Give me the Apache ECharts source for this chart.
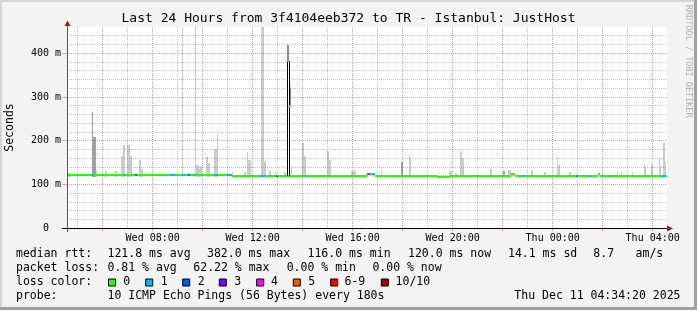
<!DOCTYPE html>
<html><head><meta charset="utf-8">
<script src="https://cdn.jsdelivr.net/npm/echarts@6/dist/echarts.min.js"></script>
<style>html,body{margin:0;padding:0;background:#f3f3f3}#c{width:697px;height:310px}</style>
</head><body><div id="c"></div>
<script>
// ---------- data (hours since Wed 00:00) ----------
const startHour = 4 + 34.33 / 60;      // Wed 04:34
const endHour = startHour + 24;        // Thu 04:34
const stepHours = 0.05;                // 180 s per step
const yMax = 460;

const xLabelHours = [8, 12, 16, 20, 24, 28];
const xMajorHours = [6, 8, 10, 12, 14, 16, 18, 20, 22, 24, 26, 28];
const xMinorHours = [5, 7, 9, 11, 13, 15, 17, 19, 21, 23, 25, 27];
const yLabelValues = [0, 100, 200, 300, 400];
const yMajorValues = [100, 200, 300, 400];
const yMinorValues = [20, 40, 60, 80, 120, 140, 160, 180, 220, 240, 260, 280, 320, 340, 360, 380, 420, 440];

// median rtt (ms), held from each time until the next
const medianTimes  = [4.572, 11.172, 16.572, 16.892, 19.372, 19.892, 22.332, 22.492, 25.812, 25.892];
const medianValues = [122,   120,    124,    120,    116,    120,    123,    120,    123,    120];

// packet-loss coloured stretches of the median line
const lossStart = [5.544, 6.812, 7.304, 8.704, 9.172, 9.372, 9.432, 9.640, 10.440, 10.960, 12.292, 12.932, 14.092, 16.572, 16.772, 20.960, 22.760, 24.932, 25.492, 26.160, 28.360];
const lossEnd   = [5.664, 6.904, 7.372, 8.904, 9.304, 9.432, 9.504, 9.732, 10.612, 11.160, 12.492, 13.000, 14.184, 16.692, 16.892, 21.024, 22.864, 24.972, 25.560, 26.292, 28.492];
const lossLevel = [1,     1,     2,     1,     1,     1,     2,     1,     1,      1,      1,      2,      1,      4,      1,      1,      1,      2,      1,      1,      1];

// smoke (ping spread) columns: step start time and highest ping (ms)
const smokeFloor = 117;
const smokeLightTimes = [4.572, 4.622, 4.672, 5.722, 6.112, 6.492, 6.542, 6.752, 6.802, 6.852, 6.992, 7.042, 7.092, 7.142,
  7.452, 7.502, 7.552, 9.172, 9.692, 9.742, 9.792, 9.842, 9.892, 9.942, 10.132, 10.182, 10.232, 10.472, 10.522, 10.572,
  11.172, 11.672, 11.772, 11.822, 11.872, 12.352, 12.402, 12.452, 12.502, 12.652, 12.702, 12.892, 13.252, 13.302, 13.542,
  13.992, 14.042, 14.092, 14.992, 15.042, 15.092, 15.952, 16.002, 16.052, 16.102, 17.132, 18.252, 18.302, 19.872, 19.922,
  20.112, 20.312, 20.362, 20.412, 21.512, 22.232, 22.282, 23.132, 23.182, 23.672, 24.162, 24.212, 24.262, 24.672, 25.972,
  26.572, 26.732, 27.172, 27.644, 27.694, 27.924, 27.974, 28.244, 28.294, 28.432, 28.482];
const smokeLightTops = [129, 128, 127, 133, 130, 131, 131, 165, 190, 190, 190, 190, 165, 165,
  156, 156, 135, 460, 460, 144, 144, 135, 142, 142, 163, 163, 149, 181, 181, 215,
  128, 128, 173, 156, 156, 460, 460, 153, 153, 131, 131, 129, 129, 129, 142,
  195, 165, 165, 176, 156, 156, 130, 130, 133, 133, 132, 167, 160, 131, 131,
  127, 176, 160, 160, 135, 133, 133, 133, 133, 128, 160, 144, 144, 128, 130,
  128, 130, 129, 144, 140, 146, 142, 160, 142, 195, 152];
const smokeDarkTimes = [5.572, 5.622, 5.672, 17.952, 22.032];
const smokeDarkTops  = [265,   208,   208,   152,    130];

// the big spike: two median steps far above the rest
const spikeTimes   = [13.392, 13.472];
const spikeMedians = [382,    279];
const spikeSmokeLows  = [382, 279];
const spikeSmokeHighs = [419, 322];
const spikeBase = 120;
const spikeTop = 382;

// text
const titleText = 'Last 24 Hours from 3f4104eeb372 to TR - Istanbul: JustHost';
const rttItems  = ['median rtt:', '121.8 ms avg', '382.0 ms max', '116.0 ms min', '120.0 ms now', '14.1 ms sd', '8.7', 'am/s'];
const lossItems = ['packet loss:', '0.81 % avg', '62.22 % max', '0.00 % min', '0.00 % now'];
const lossLabels = ['0', '1', '2', '3', '4', '5', '6-9', '10/10'];
const probeItems = ['probe:', '10 ICMP Echo Pings (56 Bytes) every 180s', 'Thu Dec 11 04:34:20 2025'];

// ---------- styles / layout ----------
const lossColors = ['#26ff00', '#00b8ff', '#0059ff', '#7e00ff', '#ff00ff', '#ff5500', '#ff0000', '#a00000'];
const FONT = "'DejaVu Sans Mono', 'Liberation Mono', monospace";
const rttX  = [16, 107.5, 207, 307.5, 408, 508, 593.3, 635.6];
const lossX = [16, 107.5, 193.3, 286.7, 372.4];
const swatchX = [108.5, 145.7, 182.7, 219.3, 256.7, 293.3, 330.7, 381.3];
const swatchLabelX = [123.3, 160.7, 197.7, 234.3, 271, 308.3, 344.4, 395.6];

function medianAt(t) {
  let v = medianValues[0];
  for (let i = 0; i < medianTimes.length; i++) if (medianTimes[i] <= t + 1e-9) v = medianValues[i];
  return v;
}
function fmtHour(h) {
  const day = h >= 24 ? 'Thu' : 'Wed';
  const hh = Math.round(h % 24);
  return day + ' ' + (hh < 10 ? '0' : '') + hh + ':00';
}

const chart = echarts.init(document.getElementById('c'), null, { renderer: 'canvas' });

const gridMarks = [];
xMinorHours.forEach(h => gridMarks.push({ xAxis: h, lineStyle: { color: 'rgba(150,150,150,0.6)', width: 1, type: [1, 1] } }));
yMinorValues.forEach(v => gridMarks.push({ yAxis: v, lineStyle: { color: 'rgba(150,150,150,0.6)', width: 1, type: [1, 1] } }));
xMajorHours.forEach(h => gridMarks.push({ xAxis: h, lineStyle: { color: 'rgba(225,70,70,0.6)', width: 1, type: [1, 1] } }));
yMajorValues.forEach(v => gridMarks.push({ yAxis: v, lineStyle: { color: 'rgba(225,70,70,0.6)', width: 1, type: [1, 1] } }));

function snapRect(api, t0, t1, lo, hi) {
  const a = api.coord([t0, lo]), b = api.coord([t1, hi]);
  const x0 = Math.round(a[0]);
  const x1 = Math.max(x0 + 1, Math.round(b[0]));
  const y0 = Math.round(b[1]);
  const y1 = Math.max(y0 + 1, Math.round(a[1]));
  return { x: x0, y: y0, width: x1 - x0, height: y1 - y0 };
}
function smokeRender(color) {
  return function (params, api) {
    const t = api.value(0), top = api.value(1);
    return { type: 'rect', shape: snapRect(api, t, t + stepHours, smokeFloor, top), style: { fill: color } };
  };
}
function medianBand(api, t0, t1, v, color) {
  const a = api.coord([t0, v]), b = api.coord([t1, v]);
  const x0 = Math.round(a[0]);
  const x1 = Math.max(x0 + 1, Math.round(b[0]));
  const y = Math.round(a[1] - 1);
  return { type: 'rect', shape: { x: x0, y: y, width: x1 - x0, height: 2 }, style: { fill: color } };
}

const medianSegs = medianTimes.map((t, i) => [t, i + 1 < medianTimes.length ? medianTimes[i + 1] : endHour, medianValues[i]]);

const graphics = [
  { type: 'rect', shape: { x: 0, y: 0, width: 697, height: 2 }, style: { fill: '#d4d4d4' }, silent: true },
  { type: 'rect', shape: { x: 0, y: 0, width: 2, height: 310 }, style: { fill: '#d4d4d4' }, silent: true },
  { type: 'rect', shape: { x: 694, y: 0, width: 3, height: 310 }, style: { fill: '#a0a0a0' }, silent: true },
  { type: 'rect', shape: { x: 0, y: 307, width: 697, height: 3 }, style: { fill: '#a0a0a0' }, silent: true },
  { type: 'text', x: 348.5, y: 19, style: { text: titleText, font: '13px ' + FONT, fill: '#000', textAlign: 'center', textVerticalAlign: 'middle' } },
  { type: 'text', x: 10.5, y: 127.5, rotation: Math.PI / 2, style: { text: 'Seconds', font: '11.5px ' + FONT, fill: '#000', textAlign: 'center', textVerticalAlign: 'middle' } },
  { type: 'text', x: 688.5, y: 5, rotation: -Math.PI / 2, style: { text: 'RRDTOOL / TOBI OETIKER', font: '8.5px ' + FONT, fill: '#b0b0b0', textAlign: 'left', textVerticalAlign: 'middle' } },
  { type: 'line', shape: { x1: 67.5, y1: 25, x2: 67.5, y2: 232 }, style: { stroke: '#555', lineWidth: 1 }, z: 10 },
  { type: 'line', shape: { x1: 62, y1: 228.5, x2: 669, y2: 228.5 }, style: { stroke: '#000', lineWidth: 1 }, z: 10 },
  { type: 'polygon', shape: { points: [[64.5, 26], [70.5, 26], [67.5, 20.5]] }, style: { fill: '#a01818' }, z: 10 },
  { type: 'polygon', shape: { points: [[667, 225.5], [667, 231.5], [673, 228.5]] }, style: { fill: '#a01818' }, z: 10 }
];
rttItems.forEach((s, i) => graphics.push({ type: 'text', x: rttX[i], y: 254.3, style: { text: s, font: '11.5px ' + FONT, fill: '#000', textVerticalAlign: 'middle' } }));
lossItems.forEach((s, i) => graphics.push({ type: 'text', x: lossX[i], y: 268.3, style: { text: s, font: '11.5px ' + FONT, fill: '#000', textVerticalAlign: 'middle' } }));
graphics.push({ type: 'text', x: 16, y: 282.3, style: { text: 'loss color:', font: '11.5px ' + FONT, fill: '#000', textVerticalAlign: 'middle' } });
lossLabels.forEach((s, i) => {
  graphics.push({ type: 'rect', shape: { x: swatchX[i], y: 279, width: 7, height: 7 }, style: { fill: lossColors[i], stroke: '#000', lineWidth: 1 } });
  graphics.push({ type: 'text', x: swatchLabelX[i], y: 282.3, style: { text: s, font: '11.5px ' + FONT, fill: '#000', textVerticalAlign: 'middle' } });
});
graphics.push({ type: 'text', x: 16, y: 296, style: { text: probeItems[0], font: '11.5px ' + FONT, fill: '#000', textVerticalAlign: 'middle' } });
graphics.push({ type: 'text', x: 107.5, y: 296, style: { text: probeItems[1], font: '11.5px ' + FONT, fill: '#000', textVerticalAlign: 'middle' } });
graphics.push({ type: 'text', x: 680.5, y: 296, style: { text: probeItems[2], font: '11.5px ' + FONT, fill: '#000', textAlign: 'right', textVerticalAlign: 'middle' } });

chart.setOption({
  animation: false,
  backgroundColor: '#f3f3f3',
  grid: { left: 67, right: 30, top: 27, bottom: 82, show: true, backgroundColor: '#ffffff', borderWidth: 0 },
  xAxis: {
    type: 'value', min: startHour, max: endHour,
    axisLine: { show: false },
    splitLine: { show: false },
    axisTick: { show: true, customValues: xMajorHours, length: 3, lineStyle: { color: 'rgba(225,70,70,0.6)' } },
    axisLabel: { customValues: xLabelHours, formatter: v => fmtHour(v), margin: 5, color: '#000', fontFamily: FONT, fontSize: 10 }
  },
  yAxis: {
    type: 'value', min: 0, max: yMax, interval: 100,
    axisLine: { show: false },
    splitLine: { show: false },
    axisTick: { show: true, customValues: yMajorValues, length: 5, lineStyle: { color: 'rgba(225,70,70,0.5)' } },
    axisLabel: { customValues: yLabelValues, formatter: v => v === 0 ? '  0  ' : v + ' m', margin: 6, color: '#000', fontFamily: FONT, fontSize: 10 }
  },
  graphic: graphics,
  series: [
    { type: 'scatter', data: [[startHour, 0]], symbolSize: 0, silent: true, z: 1,
      markLine: { silent: true, symbol: ['none', 'none'], label: { show: false }, animation: false, data: gridMarks } },
    { type: 'custom', name: 'smoke light', z: 2, renderItem: smokeRender('#cbcbcb'),
      data: smokeLightTimes.map((t, i) => [t, smokeLightTops[i]]), encode: { x: 0, y: 1 } },
    { type: 'custom', name: 'smoke dark', z: 2, renderItem: smokeRender('#a2a2a2'),
      data: smokeDarkTimes.map((t, i) => [t, smokeDarkTops[i]]), encode: { x: 0, y: 1 } },
    { type: 'custom', name: 'spike smoke', z: 2,
      renderItem: function (params, api) {
        const t = api.value(0);
        return { type: 'rect', shape: snapRect(api, t, t + stepHours, api.value(1), api.value(2)), style: { fill: '#8c8c8c' } };
      },
      data: spikeTimes.map((t, i) => [t, spikeSmokeLows[i], spikeSmokeHighs[i]]), encode: { x: 0, y: [1, 2] } },
    { type: 'custom', name: 'median', z: 3,
      renderItem: function (params, api) {
        return medianBand(api, api.value(0), api.value(1), api.value(2), lossColors[0]);
      },
      data: medianSegs, encode: { x: [0, 1], y: 2 } },
    { type: 'custom', name: 'loss', z: 4,
      renderItem: function (params, api) {
        const s = api.value(0), e = api.value(1);
        return medianBand(api, s, e, medianAt(s), lossColors[api.value(2)]);
      },
      data: lossStart.map((s, i) => [s, lossEnd[i], lossLevel[i]]), encode: { x: [0, 1] } },
    { type: 'custom', name: 'spike', z: 5,
      renderItem: function (params, api) {
        const t = api.value(0), m = api.value(1);
        const a = api.coord([t, spikeBase]), b = api.coord([t, spikeTop]);
        const x = Math.round(a[0]) + 0.5;
        const dot = api.coord([t, m]);
        return { type: 'group', children: [
          { type: 'line', shape: { x1: x, y1: a[1], x2: x, y2: b[1] }, style: { stroke: '#000', lineWidth: 1 } },
          { type: 'rect', shape: { x: x - 1, y: Math.round(dot[1]) - 1, width: 2, height: 2 }, style: { fill: lossColors[0] } }
        ] };
      },
      data: spikeTimes.map((t, i) => [t, spikeMedians[i]]), encode: { x: 0, y: 1 } }
  ]
});
</script></body></html>
